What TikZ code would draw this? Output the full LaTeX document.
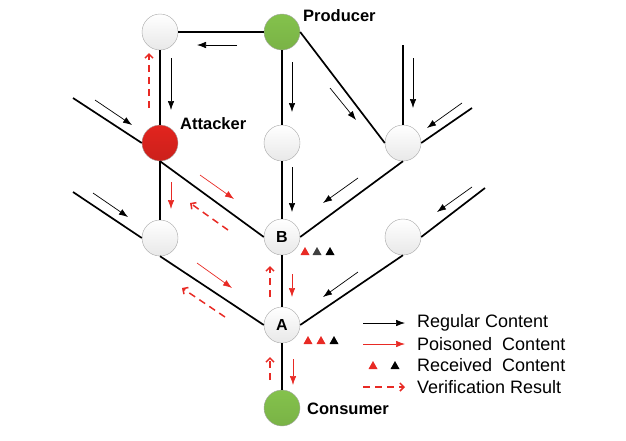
\documentclass[tikz,border=0pt]{standalone}
\usepackage{fontspec}
\setmainfont{Liberation Sans}
\usetikzlibrary{arrows.meta,positioning,calc}
\definecolor{prodgreen}{RGB}{132,194,76}
\definecolor{attackred}{RGB}{226,36,30}
\definecolor{poisonred}{RGB}{232,42,36}

\begin{document}
\begin{tikzpicture}[x=1pt,y=-1pt,
    router/.style={circle,draw=gray!70,thin,minimum size=36pt,inner sep=0pt,
      top color=white,bottom color=gray!18,font=\bfseries\fontsize{16}{18}\selectfont},
    producer/.style={router,top color=prodgreen,bottom color=prodgreen!92!black},
    attacker/.style={router,top color=attackred,bottom color=attackred!90!black},
    link/.style={line width=1.7pt},
    regular/.style={-{Latex[length=9pt,width=6.5pt]},line width=0.7pt},
    poisoned/.style={regular,poisonred},
    verify/.style={poisonred,dash pattern=on 7pt off 5pt,line width=1.5pt,
      -{Straight Barb[length=4pt,width=8pt]}},
    tag/.style={font=\bfseries\fontsize{16.5}{18}\selectfont,anchor=west,inner sep=0pt},
    legtext/.style={font=\fontsize{18}{20}\selectfont,anchor=west,inner sep=0pt}]
    \useasboundingbox (0,0) rectangle (626,440);

    % Routers
    \node[router] (tl) at (160,32) {};
    \node[producer] (prod) at (282,32) {};
    \node[attacker] (att) at (160,143) {};
    \node[router] (mid) at (282,143) {};
    \node[router] (rt) at (403,143) {};
    \node[router] (lft) at (160,238) {};
    \node[router] (B) at (282,237) {B};
    \node[router] (rr) at (403,237) {};
    \node[router] (A) at (282,325) {A};
    \node[producer] (cons) at (282,408) {};

    % Free ends of the links
    \coordinate (attIn) at (73,98);
    \coordinate (lftIn) at (73,192);
    \coordinate (rtTop) at (403,45);
    \coordinate (rtOut) at (472,108);
    \coordinate (rrOut) at (485,188);

    % Links
    \draw[link] (tl) -- (prod);
    \draw[link] (tl) -- (att);
    \draw[link] (att) -- (lft);
    \draw[link] (prod) -- (mid);
    \draw[link] (mid) -- (B);
    \draw[link] (B) -- (A);
    \draw[link] (A) -- (cons);
    \draw[link] (prod.east) -- (rt.west);
    \draw[link] (rt.south) -- (B.east);
    \draw[link] (att.south) -- (B.west);
    \draw[link] (lft.south) -- (A.west);
    \draw[link] (rr.south) -- (A.east);
    \draw[link] (attIn) -- (att.west);
    \draw[link] (lftIn) -- (lft.west);
    \draw[link] (rtTop) -- (rt.north);
    \draw[link] (rt.east) -- (rtOut);
    \draw[link] (rr.east) -- (rrOut);

    % Regular content
    \draw[regular] (237,45) -- (197,45);
    \draw[regular] (171,58) -- (171,110);
    \draw[regular] (292,62) -- (292,112);
    \draw[regular] (330,88) -- (356,120);
    \draw[regular] (413,58) -- (413,108);
    \draw[regular] (462,103) -- (427,128);
    \draw[regular] (292,167) -- (292,212);
    \draw[regular] (358,178) -- (323,203);
    \draw[regular] (95,100) -- (132,125);
    \draw[regular] (93,193) -- (128,217);
    \draw[regular] (472,187) -- (437,212);
    \draw[regular] (358,272) -- (323,297);

    % Poisoned content
    \draw[poisoned] (171,182) -- (171,209);
    \draw[poisoned] (200,175) -- (234,199);
    \draw[poisoned] (197,263) -- (232,288);
    \draw[poisoned] (292,274) -- (292,297);
    \draw[poisoned] (293,359) -- (293,385);

    % Verification results
    \draw[verify] (149,108) -- (149,53);
    \draw[verify] (228,230) -- (190,203);
    \draw[verify] (225,317) -- (182,288);
    \draw[verify] (270,297) -- (270,266);
    \draw[verify] (270,380) -- (270,357);

    % Received content
    \foreach \x/\c in {305/poisonred,317/black!75,330/black}
      \fill[\c] (\x,255) -- ++(-4.5,0) -- ++(4.5,-8) -- ++(4.5,8) -- cycle;
    \foreach \x/\c in {308/poisonred,321/poisonred,334/black}
      \fill[\c] (\x,344) -- ++(-4.5,0) -- ++(4.5,-8) -- ++(4.5,8) -- cycle;

    % Labels
    \node[tag] (prodl) at (303,16) {Producer};
    \node[tag] (attl) at (180,124) {Attacker};
    \node[tag] (consl) at (307,409) {Consumer};

    % Legend
    \draw[regular] (363,323) -- (405,323);
    \draw[poisoned] (363,344) -- (405,344);
    \foreach \x/\c in {373/poisonred,395/black}
      \fill[\c] (\x,369) -- ++(-4.5,0) -- ++(4.5,-8) -- ++(4.5,8) -- cycle;
    \draw[verify] (363,387) -- (405,387);
    \node[legtext] (l1) at (417,323) {Regular Content};
    \node[legtext] (l2) at (417,344) {Poisoned~ Content};
    \node[legtext] (l3) at (417,365) {Received~ Content};
    \node[legtext] (l4) at (417,387) {Verification Result};
\end{tikzpicture}
\end{document}
